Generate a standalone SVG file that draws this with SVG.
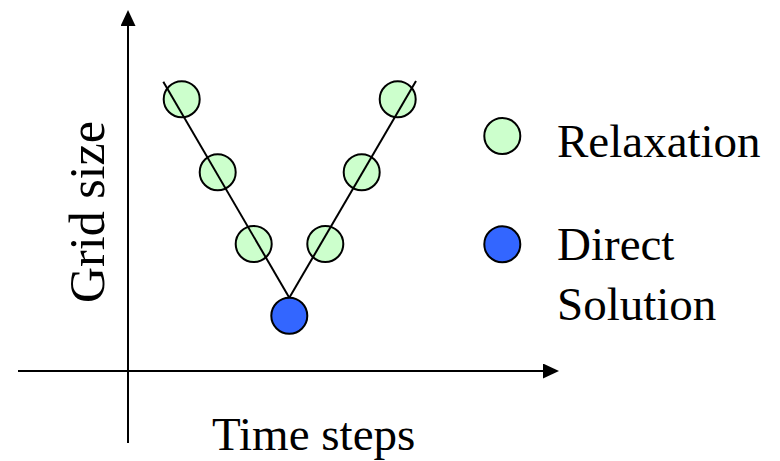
<svg xmlns="http://www.w3.org/2000/svg" width="780" height="461" viewBox="0 0 780 461">
<defs>
<style>
.ax{stroke:#000;stroke-width:2;fill:none}
.cn{stroke:#000;stroke-width:2;fill:none}
.relax{fill:#ccffcc;stroke:#000;stroke-width:2}
.direct{fill:#3366ff;stroke:#000;stroke-width:2}
.t{font-family:"Liberation Serif","Times New Roman",serif;font-size:47px;fill:#000}
.big{font-size:50px}
</style>
<marker id="arr" markerUnits="userSpaceOnUse" markerWidth="17" markerHeight="16" refX="0" refY="7.5" orient="auto">
<path d="M0,0 L16,7.5 L0,15 Z" fill="#000"/>
</marker>
</defs>
<rect width="780" height="461" fill="#fff"/>
<g id="axes">
<line class="ax" x1="128" y1="443" x2="128" y2="26" marker-end="url(#arr)"/>
<line class="ax" x1="18" y1="371" x2="543" y2="371" marker-end="url(#arr)"/>
</g>
<g id="nodes">
<g id="r1"><circle class="relax" cx="181.7" cy="99.3" r="18"/></g>
<g id="r2"><circle class="relax" cx="217.7" cy="172.3" r="18"/></g>
<g id="r3"><circle class="relax" cx="253.7" cy="244" r="18"/></g>
<g id="d1"><circle class="direct" cx="289.3" cy="315.7" r="18"/></g>
<g id="r4"><circle class="relax" cx="325.3" cy="244" r="18"/></g>
<g id="r5"><circle class="relax" cx="361.7" cy="172.3" r="18"/></g>
<g id="r6"><circle class="relax" cx="397.7" cy="99.3" r="18"/></g>
</g>
<g id="connectors">
<line class="cn" x1="163.3" y1="81.7" x2="289.3" y2="297.7"/>
<line class="cn" x1="289.3" y1="297.7" x2="416" y2="81"/>
</g>
<g id="legend">
<g id="legend-relax"><circle class="relax" cx="502.3" cy="136" r="18"/><text class="t" x="557" y="156.5">Relaxation</text></g>
<g id="legend-direct"><circle class="direct" cx="502.3" cy="244.3" r="18"/><text class="t" x="557" y="260">Direct</text><text class="t" x="557" y="320">Solution</text></g>
</g>
<g id="labels">
<text class="t" x="212" y="450">Time steps</text>
<text class="t big" transform="translate(104,303) rotate(-90)">Grid size</text>
</g>
</svg>
